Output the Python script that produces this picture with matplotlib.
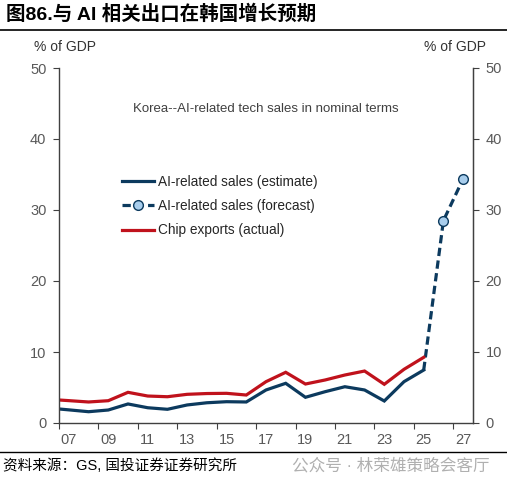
# -*- coding: utf-8 -*-
"""Korea AI-related tech sales, % of GDP."""

import matplotlib
matplotlib.use("Agg")
import matplotlib.pyplot as plt
import numpy as np

plt.rcParams['font.family'] = ['Liberation Sans', 'Noto Sans CJK SC', 'DejaVu Sans']

# annual values (plotted mid-year); 2006 only feeds the left edge
years = np.arange(2006, 2026)
ai_sales = [2.1, 1.85, 1.59, 1.83, 2.68, 2.15, 1.93, 2.54, 2.85, 3.0,
            2.96, 4.65, 5.59, 3.62, 4.41, 5.11, 4.65, 3.1, 5.82, 7.46]
chip_exports = [3.33, 3.15, 2.96, 3.14, 4.32, 3.8, 3.7, 4.04, 4.15, 4.18,
                3.94, 5.82, 7.14, 5.49, 6.06, 6.76, 7.32, 5.45, 7.56, 9.25]
fc_years = [2025, 2026, 2027]
fc_sales = [7.46, 28.5, 34.4]

navy = '#0c3a5e'
red = '#c0121c'
grey = '#595959'

fig = plt.figure(figsize=(5.07, 4.83), dpi=100)
ax = fig.add_axes([59 / 507, 1 - 423 / 483, 414 / 507, 355 / 483])

ax.plot(years + 0.5, ai_sales, color=navy, lw=2.3, label='AI-related sales (estimate)',
        solid_joinstyle='miter')
ax.plot(np.array(fc_years) + 0.5, fc_sales, color=navy, lw=2.3, ls=(0, (2.6, 1.4)),
        marker='o', markevery=[1, 2], ms=7, mfc='#a8cdec', mec=navy, mew=1.0,
        label='AI-related sales (forecast)')
ax.plot(years + 0.5, chip_exports, color=red, lw=2.3, label='Chip exports (actual)',
        solid_joinstyle='miter')

ax.set_xlim(2007, 2028)
ax.set_ylim(0, 50)

ax.spines['top'].set_visible(False)
for s in ['left', 'right', 'bottom']:
    ax.spines[s].set_color('#404040')
    ax.spines[s].set_linewidth(1.0)

ax.set_xticks(np.arange(2007, 2028, 2))
ax.set_xticklabels([])
ax.set_xticks(np.arange(2007, 2028, 2) + 0.5, minor=True)
ax.set_xticklabels(['%02d' % (y % 100) for y in range(2007, 2028, 2)], minor=True)
ax.tick_params(axis='x', which='major', direction='out', length=4, color='#404040')
ax.tick_params(axis='x', which='minor', length=0, pad=7, labelsize=10.5, labelcolor=grey)

yt = np.arange(0, 51, 10)
ax.set_yticks(yt)
ax.tick_params(axis='y', direction='out', length=4, color='#404040',
               labelsize=10.5, labelcolor=grey, pad=5)
ax2 = ax.twinx()
ax2.set_ylim(0, 50)
ax2.set_yticks(yt)
ax2.tick_params(axis='y', direction='out', length=4, color='#404040',
                labelsize=10.5, labelcolor=grey, pad=5)
for s in ['top', 'left', 'bottom']:
    ax2.spines[s].set_visible(False)
ax2.spines['right'].set_color('#404040')

ax.text(0.5, 0.884, 'Korea--AI-related tech sales in nominal terms', transform=ax.transAxes,
        ha='center', va='center', fontsize=9.5, color='#404040')

leg = ax.legend(loc='upper left', bbox_to_anchor=(0.138, 0.714), frameon=False,
                fontsize=9.8, handlelength=2.4, handletextpad=0.3, labelspacing=0.75,
                borderaxespad=0)
for t in leg.get_texts():
    t.set_color('#262626')

fig.text(65 / 507, 1 - 47 / 483, '% of GDP', ha='center', va='center', fontsize=10, color='#333333')
fig.text(455 / 507, 1 - 47 / 483, '% of GDP', ha='center', va='center', fontsize=10, color='#333333')

fig.text(6 / 507, 1 - 14 / 483, '图86.与 AI 相关出口在韩国增长预期', ha='left', va='center',
         fontsize=14, fontweight='heavy', color='black')
fig.add_artist(plt.Line2D([0, 1], [1 - 30 / 483, 1 - 30 / 483], color='black', lw=1.2))
fig.add_artist(plt.Line2D([0, 1], [1 - 452 / 483, 1 - 452 / 483], color='black', lw=1.0))
fig.text(3 / 507, 1 - 466 / 483, '资料来源：GS, 国投证券证券研究所', ha='left', va='center',
         fontsize=10.5, color='black')
fig.text(490 / 507, 1 - 466 / 483, '公众号 · 林荣雄策略会客厅', ha='right', va='center',
         fontsize=12, color='#b0b0b0')

fig.savefig('out.png', dpi=100)
